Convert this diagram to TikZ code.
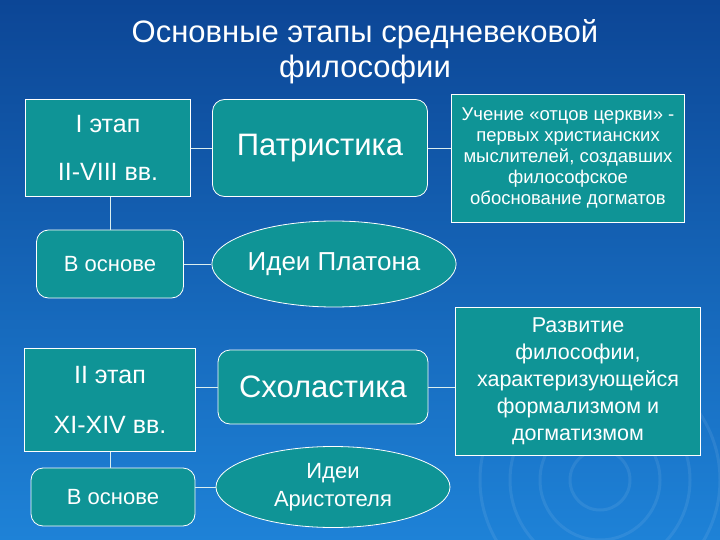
\documentclass[tikz,border=0pt]{standalone}
\usepackage{fontspec}
\setmainfont{Liberation Sans}
\usetikzlibrary{shapes.geometric}
\definecolor{bgtop}{RGB}{12,70,150}
\definecolor{bgbot}{RGB}{30,130,215}
\definecolor{teal}{RGB}{15,148,150}
\begin{document}
\begin{tikzpicture}[x=1pt,y=-1pt,
  box/.style={draw=white,line width=0.8pt,fill=teal,text=white,align=center,inner sep=0pt},
  rbox/.style={box,rounded corners=12pt},
  con/.style={draw=white!85!teal,line width=0.8pt},
  every node/.style={text=white}]
\shade[top color=bgtop,bottom color=bgbot] (0,0) rectangle (720,540);
\useasboundingbox (0,0) rectangle (720,540);
\foreach \r in {30,60,90,120}{\draw[white,opacity=0.08,line width=3pt] (600,480) circle (\r);}
\node[align=center,font=\fontsize{31}{35}\selectfont] (title) at (365,52) {Основные этапы средневековой\\философии};
% stage 1
\node[box,minimum width=165,minimum height=97,font=\fontsize{25}{48}\selectfont] (s1) at (108,148) {I этап\\II-VIII вв.};
\node[rbox,minimum width=215,minimum height=97,font=\fontsize{31}{30}\selectfont] (pat) at (320,148) {\raisebox{6pt}{Патристика}};
\node[box,minimum width=233,minimum height=128,font=\fontsize{18.5}{21}\selectfont] (t1) at (568,158) {Учение «отцов церкви» -\\первых христианских\\мыслителей, создавших\\философское\\обоснование догматов};
\node[rbox,minimum width=147,minimum height=68,font=\fontsize{22}{26}\selectfont] (b1) at (110,264) {В основе};
\node[ellipse,box,inner xsep=0pt,minimum width=240,minimum height=86,font=\fontsize{26}{32}\selectfont] (pl) at (334,264) {Идеи Платона};
\draw[con] (b1.north |- s1.south) -- (b1.north);
\draw[con] (s1) -- (pat);
\draw[con] (pat.east) -- (pat.east -| t1.west);
\draw[con] (b1) -- (pl);
% stage 2
\node[box,minimum width=171,minimum height=103,font=\fontsize{25}{50}\selectfont] (s2) at (110,400) {II этап\\XI-XIV вв.};
\node[rbox,minimum width=210,minimum height=74,font=\fontsize{31}{30}\selectfont] (sch) at (323,387) {Схоластика};
\node[box,minimum width=245,minimum height=148,font=\fontsize{21.5}{27}\selectfont] (t2) at (578,381) {Развитие\\философии,\\характеризующейся\\формализмом и\\догматизмом};
\node[rbox,minimum width=164,minimum height=58,font=\fontsize{22}{26}\selectfont] (b2) at (113,497) {В основе};
\node[ellipse,box,minimum width=234,minimum height=81,font=\fontsize{22}{28}\selectfont] (ar) at (333,487) {Идеи\\Аристотеля};
\draw[con] (s2.south) -- (s2.south |- b2.north);
\draw[con] (s2.east |- sch.west) -- (sch.west);
\draw[con] (sch.east) -- (sch.east -| t2.west);
\draw[con] (b2.east |- ar.west) -- (ar.west);
\end{tikzpicture}
\end{document}
